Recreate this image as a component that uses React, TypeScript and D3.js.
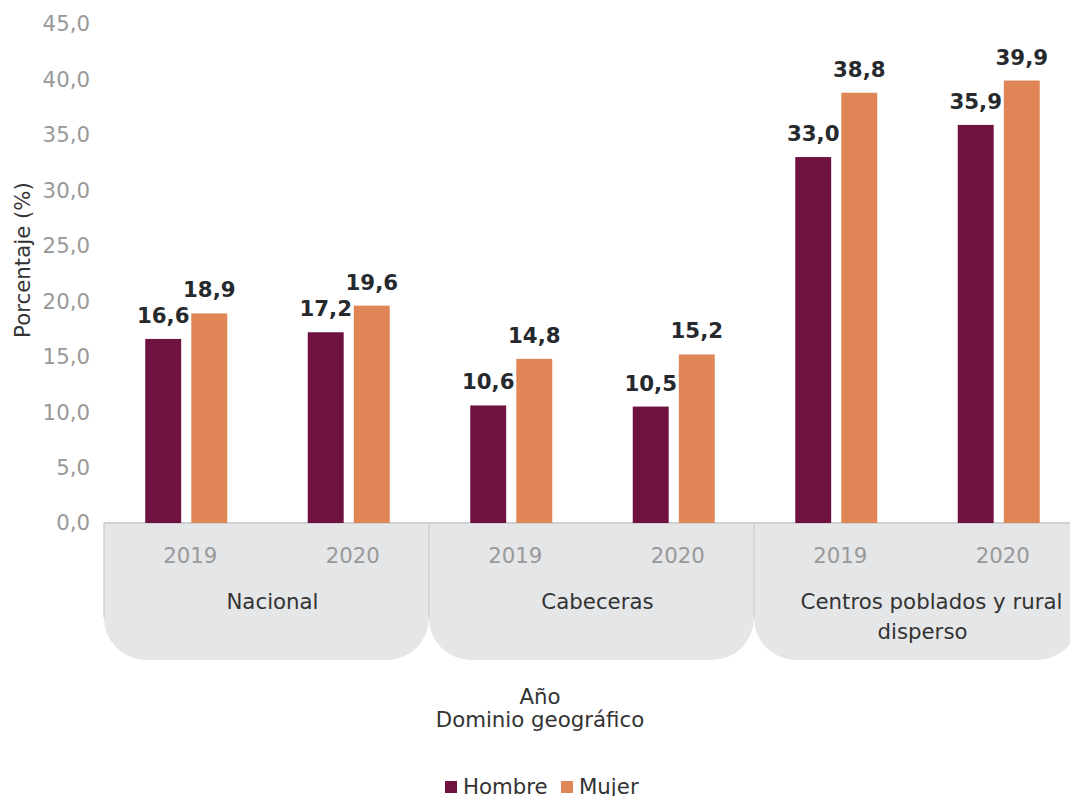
import React, { useRef, useEffect } from 'react';
import * as d3 from 'd3';

const groups = ['Nacional', 'Cabeceras', 'Centros poblados y rural disperso'];
const years = ['2019', '2020'];
const series = ['Hombre', 'Mujer'];
const hombre = [16.6, 17.2, 10.6, 10.5, 33.0, 35.9];
const mujer = [18.9, 19.6, 14.8, 15.2, 38.8, 39.9];
const yTicks = [0, 5, 10, 15, 20, 25, 30, 35, 40, 45];

const colors = ['#6f1242', '#e08555'];
const fmt = (v: number) => v.toFixed(1).replace('.', ',');
const FONT = '"DejaVu Sans", Verdana, sans-serif';
const FS = '21.3px';

export default function App() {
  const ref = useRef<SVGSVGElement | null>(null);

  useEffect(() => {
    if (!ref.current) return;
    const width = 1070;
    const height = 796;
    const left = 104;
    const right = 1079;
    const top = 24;
    const bottom = 523;

    const svg = d3.select(ref.current);
    svg.selectAll('*').remove();
    svg.attr('width', width).attr('height', height).style('font-family', FONT);

    const y = d3.scaleLinear().domain([0, 45]).range([bottom, top]);
    const gx = d3.scaleBand().domain(groups).range([left, right]).padding(0);
    const bx = d3.scaleBand().domain(years).range([0, gx.bandwidth()]).padding(0);
    const sx = d3.scaleBand().domain(series).range([0, 82]).paddingInner(0.22);

    // category bands
    const bandBottom = 660;
    const r = 42;
    groups.forEach(g => {
      const x0 = gx(g)!;
      const x1 = x0 + gx.bandwidth();
      const p = d3.path();
      p.moveTo(x0, bottom);
      p.lineTo(x1, bottom);
      p.lineTo(x1, bandBottom - r);
      p.arcTo(x1, bandBottom, x1 - r, bandBottom, r);
      p.lineTo(x0 + r, bandBottom);
      p.arcTo(x0, bandBottom, x0, bandBottom - r, r);
      p.closePath();
      svg.append('path').attr('d', p.toString()).attr('fill', '#e5e6e8');
    });
    // separators
    groups.forEach(g => {
      svg.append('line')
        .attr('x1', gx(g)!).attr('x2', gx(g)!)
        .attr('y1', bottom).attr('y2', 617)
        .attr('stroke', '#cfd0d2').attr('stroke-width', 1.5);
    });
    svg.append('line')
      .attr('x1', left).attr('x2', right)
      .attr('y1', bottom).attr('y2', bottom)
      .attr('stroke', '#cfd0d2').attr('stroke-width', 2);

    // y axis labels
    svg.append('g').selectAll('text').data(yTicks).join('text')
      .attr('x', 90).attr('y', d => y(d)).attr('dy', '0.35em')
      .attr('text-anchor', 'end').attr('fill', '#999999').style('font-size', FS)
      .text(d => fmt(d));

    svg.append('text')
      .attr('transform', `translate(23,260) rotate(-90)`).attr('dy', '0.35em')
      .attr('text-anchor', 'middle').attr('fill', '#333333').style('font-size', FS)
      .text('Porcentaje (%)');

    // bars
    const values = [hombre, mujer];
    groups.forEach((g, gi) => {
      years.forEach((yr, yi) => {
        const idx = gi * years.length + yi;
        const cx = gx(g)! + bx(yr)! + bx.bandwidth() / 2 + 1;
        const x0 = cx - 41;
        series.forEach((s, si) => {
          const v = values[si][idx];
          const bxPos = x0 + sx(s)!;
          svg.append('rect')
            .attr('x', bxPos).attr('y', y(v))
            .attr('width', sx.bandwidth()).attr('height', bottom - y(v))
            .attr('fill', colors[si]);
          svg.append('text')
            .attr('x', bxPos + sx.bandwidth() / 2).attr('y', y(v) - 16)
            .attr('text-anchor', 'middle').attr('fill', '#262a2e')
            .style('font-size', FS).style('font-weight', 'bold')
            .text(fmt(v));
        });
        svg.append('text')
          .attr('x', cx + 4).attr('y', 556).attr('dy', '0.35em')
          .attr('text-anchor', 'middle').attr('fill', '#999999').style('font-size', FS)
          .text(yr);
      });
      const gc = gx(g)! + gx.bandwidth() / 2 + 6;
      const lines = g === 'Centros poblados y rural disperso'
        ? ['Centros poblados y rural', 'disperso'] : [g];
      lines.forEach((ln, li) => {
        svg.append('text')
          .attr('x', gc + (lines.length > 1 && li === 0 ? 9 : 0)).attr('y', 602 + li * 30).attr('dy', '0.35em')
          .attr('text-anchor', 'middle').attr('fill', '#333333').style('font-size', FS)
          .text(ln);
      });
    });

    // axis titles
    svg.append('text').attr('x', 540).attr('y', 697).attr('dy', '0.35em')
      .attr('text-anchor', 'middle').attr('fill', '#333333').style('font-size', FS).text('Año');
    svg.append('text').attr('x', 540).attr('y', 720).attr('dy', '0.35em')
      .attr('text-anchor', 'middle').attr('fill', '#333333').style('font-size', FS).text('Dominio geográfico');

    // legend
    const legendX = [445, 561];
    series.forEach((s, i) => {
      svg.append('rect').attr('x', legendX[i]).attr('y', 781).attr('width', 12).attr('height', 12)
        .attr('fill', colors[i]);
      svg.append('text').attr('x', legendX[i] + 18).attr('y', 787).attr('dy', '0.35em')
        .attr('fill', '#333333').style('font-size', FS).text(s);
    });
  }, []);

  return (
    <div style={{ position: 'absolute', left: 0, top: 0, width: 1070, height: 796, overflow: 'hidden', background: '#fff' }}>
      <svg ref={ref} style={{ display: 'block' }} />
    </div>
  );
}
